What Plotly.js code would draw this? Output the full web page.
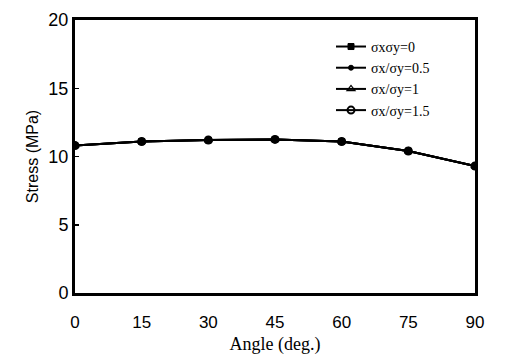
<!DOCTYPE html>
<html>
<head>
<meta charset="utf-8">
<script src="https://cdn.plot.ly/plotly-3.0.1.min.js"></script>
<style>html,body{margin:0;padding:0;background:#fff;}#chart{width:510px;height:363px;}</style>
</head>
<body>
<div id="chart"></div>
<script>
var angles = [0, 15, 30, 45, 60, 75, 90];
var ratio0 = [10.8, 11.1, 11.2, 11.25, 11.1, 10.4, 9.3];
var ratio05 = [10.8, 11.1, 11.2, 11.25, 11.1, 10.4, 9.3];
var ratio1 = [10.8, 11.1, 11.2, 11.25, 11.1, 10.4, 9.3];
var ratio15 = [10.8, 11.1, 11.2, 11.25, 11.1, 10.4, 9.3];
var seriesNames = ['σxσy=0', 'σx/σy=0.5', 'σx/σy=1', 'σx/σy=1.5'];
var xTicks = [0, 15, 30, 45, 60, 75, 90];
var yTicks = [0, 5, 10, 15, 20];

var symbols = ['square', 'circle', 'triangle-up-open', 'circle-open'];
var sizes = [6, 5, 7, 7];
var lw = [1, 1, 1.2, 2];
var data = [ratio0, ratio05, ratio1, ratio15].map(function (ys, i) {
  return {
    x: angles, y: ys, name: seriesNames[i], type: 'scatter', mode: 'lines+markers',
    line: {color: '#000', width: 2},
    marker: {symbol: symbols[i], size: sizes[i], color: '#000', line: {color: '#000', width: lw[i]}}
  };
});

var layout = {
  width: 510, height: 363,
  margin: {l: 75, r: 35, t: 20, b: 70},
  paper_bgcolor: '#fff', plot_bgcolor: '#fff',
  showlegend: true,
  legend: {x: 0.64, y: 0.96, xanchor: 'left', yanchor: 'top', bgcolor: 'rgba(0,0,0,0)',
    font: {family: 'Liberation Serif, serif', size: 14, color: '#000'}, tracegroupgap: 0},
  xaxis: {
    range: [0, 90], tickvals: xTicks, ticks: '', showgrid: false, zeroline: false,
    showline: true, mirror: true, linecolor: '#000', linewidth: 3,
    ticklabelstandoff: 12,
    tickfont: {family: 'Liberation Sans, Arial, sans-serif', size: 17, color: '#000'},
    title: {text: 'Angle (deg.)', font: {family: 'Liberation Serif, serif', size: 18, color: '#000'}, standoff: 6}
  },
  yaxis: {
    range: [0, 20], tickvals: yTicks, ticks: 'inside', ticklen: 4, tickwidth: 1.5, tickcolor: '#000',
    showgrid: false, zeroline: false,
    showline: true, mirror: true, linecolor: '#000', linewidth: 3,
    ticklabelstandoff: 0,
    tickfont: {family: 'Liberation Sans, Arial, sans-serif', size: 18, color: '#000'},
    title: {text: 'Stress (MPa)', font: {family: 'Liberation Sans, Arial, sans-serif', size: 16, color: '#000'}, standoff: 6}
  }
};
Plotly.newPlot('chart', data, layout, {displayModeBar: false, staticPlot: true});
</script>
</body>
</html>
